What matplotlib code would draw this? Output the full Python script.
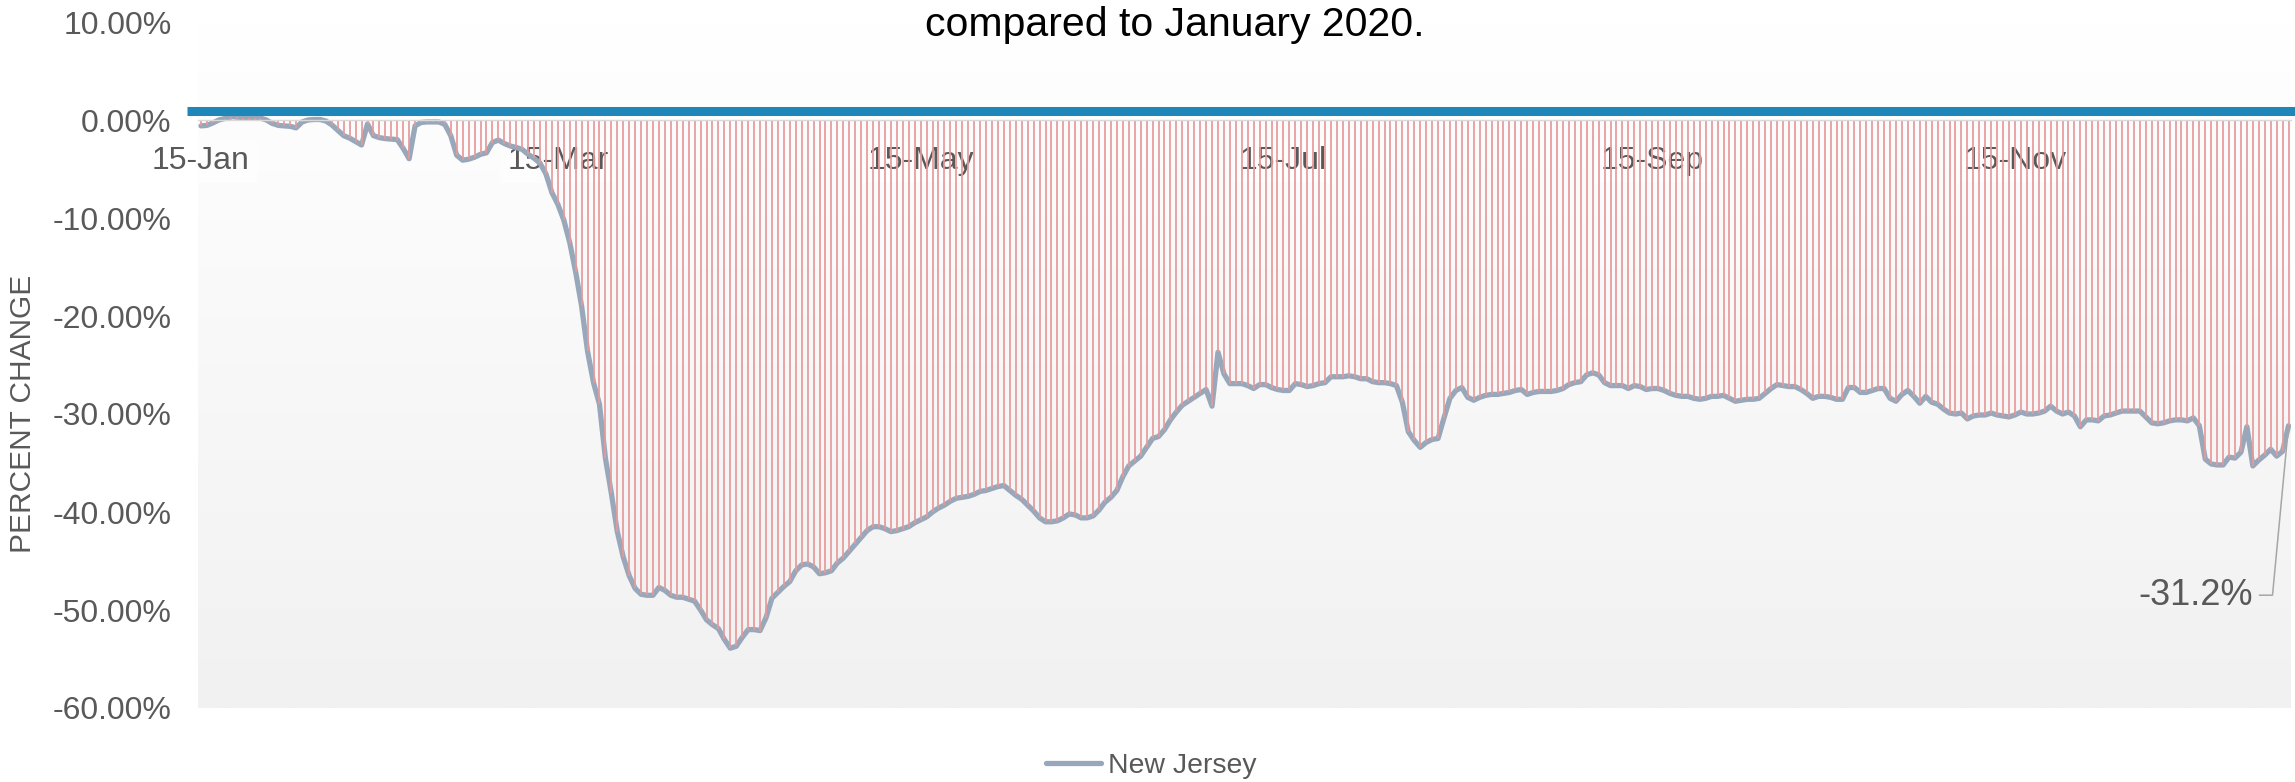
import numpy as np
import pandas as pd
import matplotlib
matplotlib.use('Agg')
import matplotlib.pyplot as plt
from matplotlib.colors import LinearSegmentedColormap
from matplotlib.transforms import blended_transform_factory
from matplotlib.ticker import FixedLocator

plt.rcParams['font.family'] = ['Liberation Sans', 'DejaVu Sans']

# % change in New Jersey vs January 2020, daily from 15 Jan to 31 Dec 2020
jan = [-0.6, -0.55, -0.3, 0.0, 0.15, 0.35, 0.3, 0.25, 0.25, 0.25, 0.2, 0.0, -0.35, -0.55, -0.6, -0.65, -0.8]
feb = [-0.2, 0.0, 0.05, 0.05, -0.1, -0.5, -1.05, -1.6, -1.85, -2.2, -2.55, -0.4, -1.6, -1.8, -1.9,
       -1.95, -2.0, -2.9, -3.95, -0.6, -0.25, -0.2, -0.2, -0.2, -0.45, -1.6, -3.6, -4.1, -4.0]
mar = [-3.8, -3.5, -3.35, -2.3, -2.05, -2.4, -2.65, -2.8, -3.0, -3.5, -3.9, -4.4, -5.5, -7.4, -8.6, -10.2,
       -12.5, -15.5, -19.0, -23.6, -26.8, -29.0, -34.5, -38.1, -42.0, -44.6, -46.5, -47.8, -48.4, -48.5, -48.5]
apr = [-47.7, -48.0, -48.5, -48.7, -48.7, -48.9, -49.1, -50.0, -51.0, -51.5, -51.9, -53.0, -53.9, -53.7, -52.8,
       -52.0, -52.0, -52.1, -50.8, -48.8, -48.2, -47.6, -47.1, -46.0, -45.4, -45.3, -45.6, -46.3, -46.2, -46.0]
may = [-45.2, -44.7, -44.0, -43.3, -42.6, -41.9, -41.5, -41.5, -41.7, -42.0, -41.9, -41.7, -41.5, -41.1, -40.8,
       -40.5, -40.0, -39.6, -39.3, -38.9, -38.6, -38.5, -38.4, -38.2, -37.9, -37.8, -37.6, -37.4, -37.3, -37.8, -38.3]
jun = [-38.7, -39.3, -39.9, -40.6, -41.0, -41.0, -40.9, -40.6, -40.2, -40.3, -40.6, -40.6, -40.4, -39.8, -39.0,
       -38.5, -37.8, -36.4, -35.3, -34.8, -34.3, -33.4, -32.5, -32.3, -31.6, -30.6, -29.8, -29.1, -28.7, -28.3]
jul = [-27.9, -27.5, -29.2, -23.7, -25.9, -26.9, -26.9, -26.9, -27.1, -27.4, -27.0, -27.0, -27.3, -27.5, -27.6,
       -27.6, -26.9, -27.0, -27.2, -27.1, -26.9, -26.8, -26.2, -26.2, -26.2, -26.1, -26.2, -26.4, -26.4, -26.7, -26.8]
aug = [-26.8, -26.9, -27.1, -28.8, -31.8, -32.7, -33.4, -32.9, -32.6, -32.5, -30.4, -28.4, -27.6, -27.3, -28.3,
       -28.6, -28.3, -28.1, -28.0, -28.0, -27.9, -27.8, -27.6, -27.5, -28.0, -27.8, -27.7, -27.7, -27.7, -27.6, -27.4]
sep = [-27.0, -26.8, -26.7, -26.0, -25.8, -26.0, -26.8, -27.1, -27.1, -27.1, -27.4, -27.1, -27.2, -27.5, -27.4,
       -27.4, -27.6, -27.9, -28.1, -28.2, -28.2, -28.4, -28.5, -28.4, -28.2, -28.2, -28.1, -28.4, -28.7, -28.6]
oct_ = [-28.5, -28.5, -28.4, -27.9, -27.4, -27.0, -27.1, -27.2, -27.2, -27.5, -27.9, -28.4, -28.2, -28.2, -28.3,
        -28.5, -28.5, -27.3, -27.3, -27.8, -27.8, -27.6, -27.4, -27.4, -28.4, -28.7, -28.0, -27.6, -28.2, -28.9, -28.2]
nov = [-28.8, -29.0, -29.5, -29.9, -30.0, -29.9, -30.5, -30.2, -30.1, -30.1, -29.9, -30.1, -30.2, -30.3, -30.1,
       -29.8, -30.0, -30.0, -29.9, -29.7, -29.2, -29.7, -30.0, -29.8, -30.2, -31.3, -30.6, -30.6, -30.7, -30.2]
dec = [-30.1, -29.9, -29.7, -29.7, -29.7, -29.7, -30.3, -30.9, -31.0, -30.9, -30.7, -30.6, -30.6, -30.7, -30.4,
       -31.2, -34.6, -35.1, -35.2, -35.2, -34.4, -34.5, -33.9, -31.3, -35.3, -34.7, -34.2, -33.6, -34.3, -33.8, -31.2]

values = jan + feb + mar + apr + may + jun + jul + aug + sep + oct_ + nov + dec
dates = pd.date_range('2020-01-15', '2020-12-31', freq='D')

ref_level = 0.9  # thick blue reference bar just above zero
y_ticks = [10, 0, -10, -20, -30, -40, -50, -60]
x_tick_dates = pd.to_datetime(['2020-01-15', '2020-03-15', '2020-05-15',
                               '2020-07-15', '2020-09-15', '2020-11-15'])
x_tick_labels = ['15-Jan', '15-Mar', '15-May', '15-Jul', '15-Sep', '15-Nov']
series_name = 'New Jersey'

W, H = 2295, 782
fig = plt.figure(figsize=(W / 100, H / 100), dpi=100)
ax = fig.add_axes([198 / W, 1 - 708 / H, 2093 / W, 686 / H])

# soft white-to-grey plot background
grad = np.linspace(0, 1, 256).reshape(-1, 1)
bg = LinearSegmentedColormap.from_list('bg', ['#ffffff', '#f1f1f1'])
ax.imshow(grad, extent=[0, 1, 0, 1], transform=ax.transAxes, aspect='auto', cmap=bg, zorder=0)

ax.plot(dates, values, color='#98a8ba', lw=3.8, zorder=2, label=series_name,
        solid_joinstyle='round', solid_capstyle='round')
ax.vlines(dates, 0, values, colors='#e69a9a', lw=1.25, zorder=2.2)

ax.set_xlim(dates[0] - pd.Timedelta(hours=12), dates[-1] + pd.Timedelta(hours=10))
ax.set_ylim(-60, 10)

# blue reference bar, runs a little past the left edge of the plot
bt = blended_transform_factory(fig.transFigure, ax.transData)
ax.plot([187 / W, 1.0], [ref_level, ref_level], transform=bt, color='#1f86ba', lw=6.5,
        solid_capstyle='butt', clip_on=False, zorder=3)

for s in ['top', 'right', 'left']:
    ax.spines[s].set_visible(False)
ax.spines['bottom'].set_position(('data', 0))
ax.spines['bottom'].set_color('#d9d9d9')
ax.spines['bottom'].set_linewidth(1.0)

ax.yaxis.set_major_locator(FixedLocator(y_ticks))
ax.set_yticklabels([f'{v:.2f}%' for v in y_ticks])
ax.tick_params(axis='y', length=0, pad=19, labelsize=23, labelcolor='#595959')

ax.set_xticks(x_tick_dates)
ax.set_xticklabels(x_tick_labels)
ax.tick_params(axis='x', length=0, pad=19, labelsize=23, labelcolor='#595959')
for lbl in ax.get_xticklabels():
    lbl.set_bbox(dict(facecolor='white', alpha=0.6, edgecolor='none', pad=5))

ax.set_ylabel('PERCENT CHANGE', fontsize=21.5, color='#595959')
ax.yaxis.set_label_coords(-0.077, 0.4286)

# callout on the last value
ax.annotate(f'{values[-1]:.1f}%', xy=(dates[-1], values[-1]), xytext=(-26, -122),
            textcoords='offset points', ha='right', va='center', fontsize=26, color='#595959',
            arrowprops=dict(arrowstyle='-', color='#a6a6a6', lw=1.1, shrinkA=3, shrinkB=0,
                            connectionstyle='angle,angleA=0,angleB=84.6,rad=0'),
            zorder=4)

fig.text(0.512, 0.968, 'compared to January 2020.', ha='center', va='center',
         fontsize=29.5, color='black')

fig.legend(loc='center', bbox_to_anchor=(0.5016, 0.0205), frameon=False, fontsize=20.4,
           handlelength=1.95, handletextpad=0.25, labelcolor='#595959')

fig.savefig('out.png', dpi=100)
